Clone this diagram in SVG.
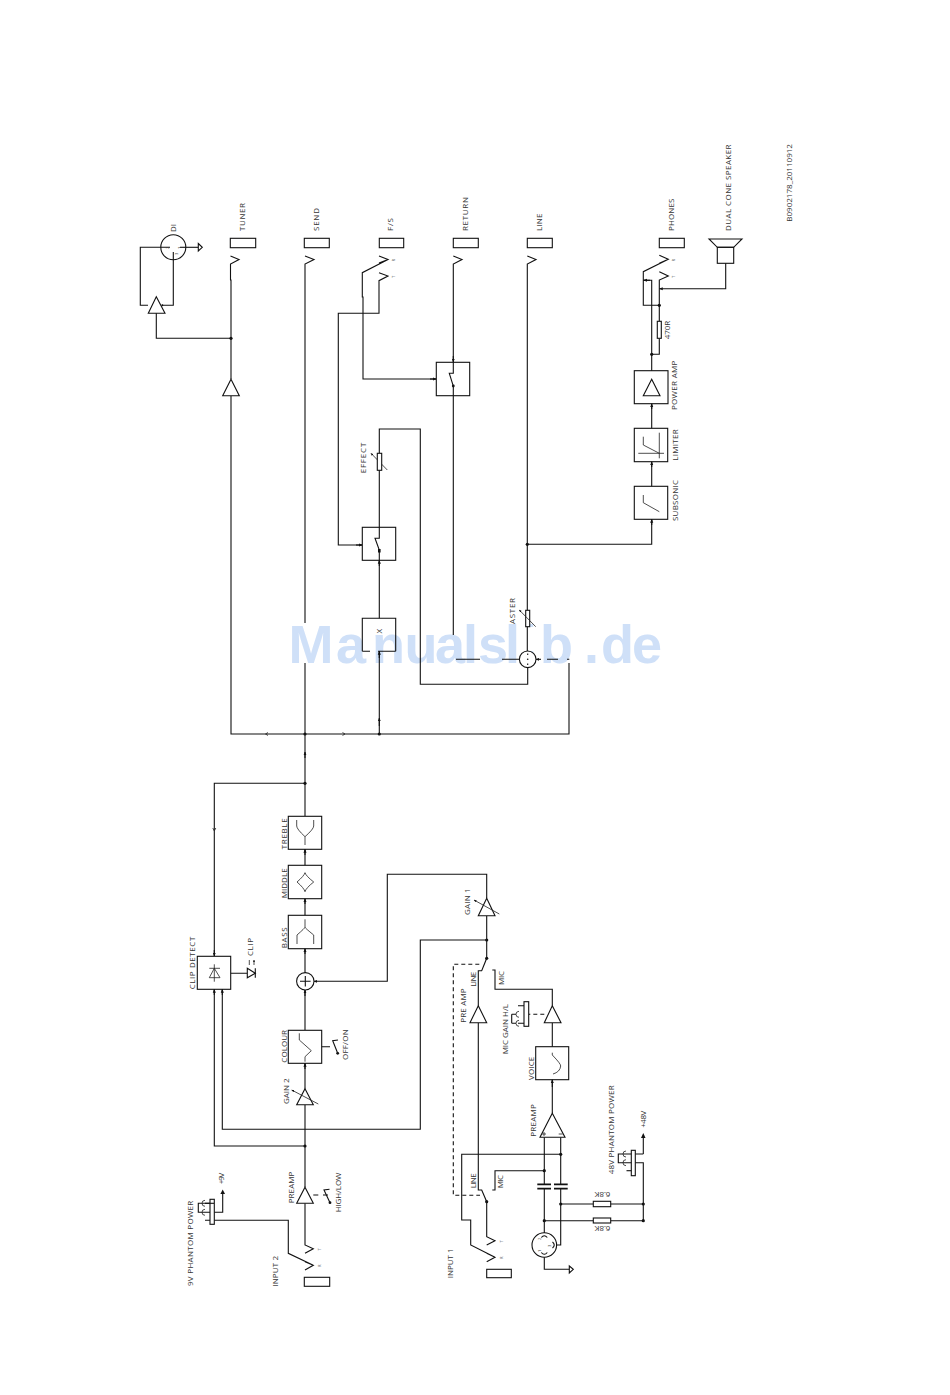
<svg xmlns="http://www.w3.org/2000/svg" width="950" height="1395" viewBox="0 0 950 1395">
<style>
.l{fill:none;stroke:#111;stroke-width:1.1;stroke-linejoin:miter}
.t{fill:none;stroke:#222;stroke-width:.8}
.b{fill:#fff;stroke:#111;stroke-width:1.1}
.c{fill:none;stroke:#111;stroke-width:1.7}
.d{fill:none;stroke:#111;stroke-width:1.1;stroke-dasharray:4 3}
text{font-family:"Open Sans","Noto Sans","Liberation Sans",sans-serif;font-size:8px;fill:#333}
.s{font-size:4px}
text.w{font-family:"Liberation Sans",Arial,sans-serif;font-size:54px;font-weight:700;fill:#cfe0f8}
</style>
<defs>
<marker id="a" viewBox="0 0 6 6" refX="5.5" refY="3" markerWidth="3.4" markerHeight="3.4" orient="auto"><path d="M0 .5L6 3 0 5.5z" fill="#111"/></marker>
<circle id="dot" r="1.6" fill="#111"/>
</defs>
<rect width="950" height="1395" fill="#fff"/>
<g id="master-label"><text transform="translate(515,632) rotate(-90)" textLength="34">MASTER</text></g>
<text class="w" y="663" x="288.5 336 372 404.5 435 463 478 505 522 540 584 601 632">Manualslib.de</text>
<g id="connectors">
<path class="l" d="M230.5 256L239 259.5 230.5 264V280H231V379"/>
<path class="l" d="M231 396V734H569V663"/>
<path class="l" d="M231 338.3H156.3V313"/>
<path class="l" d="M148 305.3H140.3V247.3H170"/>
<path class="l" d="M162 305.3H173.3V252"/>
<path class="l" d="M180 247.3H198"/>
<path class="l" d="M305 256L314 259.5 305 264V623"/>
<path class="l" d="M305 663V816"/>
<path class="l" d="M305 758V752" marker-end="url(#a)"/>
<path class="l" d="M379 256L388 259.5 379 263M388 259.5L362.3 272.7V297H363V379H436"/>
<path class="l" d="M379 272.7L388 276 379 280.7V313.3H338.3V545H362"/>
<path class="l" d="M430 379H436" marker-end="url(#a)"/>
<path class="l" d="M356 545H362" marker-end="url(#a)"/>
<path class="l" d="M453.3 256L462 259.5 453.3 264V373.3H449.3L453.3 386V635"/>
<path class="l" d="M453.3 356V362" marker-end="url(#a)"/>
<path class="l" d="M527.3 256L536 259.5 527.3 264V610"/>
<path class="l" d="M527.3 544.3H651.7V519.3"/>
<path class="l" d="M651.7 525V519.3" marker-end="url(#a)"/>
<path class="l" d="M651.7 486.3V461.7"/>
<path class="l" d="M651.7 467V461.7" marker-end="url(#a)"/>
<path class="l" d="M651.7 428.3V403.7"/>
<path class="l" d="M651.7 409V403.7" marker-end="url(#a)"/>
<path class="l" d="M527.7 667.7V684.3H420.3V429H379.3V453"/>
<path class="l" d="M379.3 470V538.3H375L379.3 550V618.3M379.3 651.3V734"/>
<path class="l" d="M379.3 566V560.3" marker-end="url(#a)"/>
<path class="l" d="M379.3 726V718" marker-end="url(#a)"/>
<path class="l" d="M379.3 658V651.3" marker-end="url(#a)"/>
<rect x="378" y="549" width="2.6" height="3.5" fill="#111"/>
<path class="l" d="M456 659.3H480M502 659.3H519.2M547 659.3H558M567 659.3H569.3"/>
<path class="l" d="M541 659.3H536" marker-end="url(#a)"/>
<path class="t" d="M387.3 470L371 453.3" marker-end="url(#a)"/>
<path class="t" d="M268 732.5L265.5 734 268 735.5M342.5 732.5L345 734 342.5 735.5"/>
<path class="l" d="M659.3 255.3L668.3 259.3 659.3 263.3M668.3 259.3L643.3 271.7V305.3H659.3"/>
<path class="l" d="M659.3 271.7L668.3 276 659.3 280V321.3M659.3 338.3V354.3H651.7"/>
<path class="l" d="M643.3 280.3H651.7V370.7"/>
<path class="l" d="M725.7 263.3V288.7H659.3" marker-end="url(#a)"/>
<path class="l" d="M650 280.3H643.5" marker-end="url(#a)"/>
<path class="l" d="M214.3 956V783.3H305"/>
<path class="l" d="M214.3 950V956" marker-end="url(#a)"/>
<path class="t" d="M212.8 828L214.3 831 215.8 828"/>
<path class="l" d="M305 855V849.3" marker-end="url(#a)"/>
<path class="l" d="M305 904V898.7" marker-end="url(#a)"/>
<path class="l" d="M305 954V948.7" marker-end="url(#a)"/>
<path class="l" d="M305 849.3V865.3M305 898.7V915.3M305 948.7V973M305 990V1030"/>
<path class="l" d="M305 996V990" marker-end="url(#a)"/>
<path class="l" d="M305 1063.3V1088.7M305 1104.7V1187.3M305 1203.3V1245L313.3 1248.7 305 1253.3"/>
<path class="l" d="M305 1069V1063.3" marker-end="url(#a)"/>
<path class="l" d="M214.3 989.3V1146H305"/>
<path class="l" d="M222.3 989.3V1129.3H420.3V940H486.7"/>
<path class="l" d="M214.3 995V989.3" marker-end="url(#a)"/>
<path class="l" d="M222.3 995V989.3" marker-end="url(#a)"/>
<path class="l" d="M486.7 898.3V874.3H387.3V981.3H314" marker-end="url(#a)"/>
<path class="l" d="M486.7 915.7V958.3L481.7 970.7H478.3V1005.7"/>
<path class="l" d="M478.3 1022.7V1190H481.7L486.7 1201.7V1236.7L495 1240.7 486.7 1245"/>
<path class="l" d="M486.7 1253.3L495 1257.3 486.7 1261.7M495 1257.3L470.7 1245V1220H461.7V1154.3H560.7"/>
<path class="d" d="M479.3 964.3H453.3V1195.3H480"/>
<path class="l" d="M492.3 970H495V989.3H552.3V1005.7"/>
<path class="l" d="M552.3 1022.7V1046.7M552.3 1079.7V1113.3"/>
<path class="l" d="M552.3 1087V1079.7" marker-end="url(#a)"/>
<path class="d" d="M544.3 1014.3H528.7"/>
<path class="l" d="M492.3 1190H495V1170.7H544.3"/>
<path class="l" d="M544.3 1137.3V1184.3M544.3 1188.7V1233M560.7 1137.3V1184.3M560.7 1188.7V1245H556"/>
<path class="c" d="M537.3 1184.3H551M537.3 1188.7H551M554 1184.3H567.7M554 1188.7H567.7"/>
<path class="l" d="M544.3 1257.3V1269.3H569.3"/>
<path class="l" d="M560.7 1204H593.3M610.7 1204H643.3M544.3 1220.7H593.3M610.7 1220.7H643.3V1162.7H618.3V1154H643.3"/>
<path class="l" d="M643.3 1154V1136"/>
<path class="l" d="M305 1261.7L313.3 1265.3 305 1270M313.3 1265.3L288.3 1253.3V1220.3H205"/>
<path class="l" d="M222.7 1193.3V1212.3H198.3V1203.3H210"/>
<path class="l" d="M230.7 973.3H247.3M321.7 1046.7H330M313.3 1195H318.3M323 1195H328"/>
</g>
<g id="tuner"><rect class="b" x="230.3" y="238.3" width="25.4" height="9.4"/><text transform="translate(245,231) rotate(-90)" textLength="28">TUNER</text><path class="b" d="M231 379.3L239.3 395.7H222.7z"/></g>
<g id="di"><circle class="l" cx="173.3" cy="247.3" r="12.5"/><path class="l" d="M198.3 243.5L202.3 247.3 198.3 251z"/><path class="b" d="M156.3 296.7L165 313.3H148.3z"/><circle cx="162.3" cy="305.3" r="1" fill="#111"/><text class="s" transform="translate(169,249) rotate(-90)">2</text><text class="s" transform="translate(181,249) rotate(-90)">1</text><text class="s" transform="translate(178,255) rotate(-90)">3</text><text transform="translate(176,232) rotate(-90)" textLength="8">DI</text></g>
<g id="send"><rect class="b" x="304.3" y="238.3" width="25" height="9.4"/><text transform="translate(319.3,231) rotate(-90)" textLength="23">SEND</text></g>
<g id="fs"><rect class="b" x="379.3" y="238.3" width="24.4" height="9.4"/><text transform="translate(393.3,231) rotate(-90)" textLength="13">F/S</text><text class="s" transform="translate(395,261.5) rotate(-90)">R</text><text class="s" transform="translate(395,278) rotate(-90)">T</text></g>
<g id="return"><rect class="b" x="453.3" y="238.3" width="25" height="9.4"/><text transform="translate(467.7,231) rotate(-90)" textLength="34">RETURN</text><rect class="l" x="436.3" y="362.3" width="33.4" height="33.4"/><circle cx="453.3" cy="386" r="1.4" fill="#111"/></g>
<g id="line"><rect class="b" x="527.3" y="238.3" width="25" height="9.4"/><text transform="translate(541.7,231) rotate(-90)" textLength="17.5">LINE</text></g>
<g id="phones"><rect class="b" x="659.3" y="238.3" width="25" height="9.4"/><text transform="translate(674,231) rotate(-90)" textLength="32.5">PHONES</text><text class="s" transform="translate(675,261.5) rotate(-90)">R</text><text class="s" transform="translate(675,278) rotate(-90)">T</text><rect class="b" x="657.3" y="321.3" width="4" height="17"/><text transform="translate(670,339.3) rotate(-90)" textLength="18.6">470R</text></g>
<g id="speaker"><path class="l" d="M709 239H742L733.7 247.3H717.3z"/><rect class="l" x="717.3" y="247.3" width="16.4" height="16"/><text transform="translate(731,231) rotate(-90)" textLength="86.5">DUAL CONE SPEAKER</text></g>
<g id="code"><text transform="translate(791.7,221.7) rotate(-90)" textLength="77.6">B0902178_20110912</text></g>
<g id="power-amp"><rect class="l" x="634.3" y="370.7" width="33.7" height="33"/><path class="l" d="M651.7 379.3L660 395.7H643.3z"/><text transform="translate(677,410) rotate(-90)" textLength="49.3">POWER AMP</text></g>
<g id="limiter"><rect class="l" x="634.3" y="428.3" width="33.4" height="33.4"/><path class="t" d="M659.3 432.7V458.3M638.3 453.3H664M643.3 436.7V445L659.3 453.3"/><text transform="translate(678.3,460.7) rotate(-90)" textLength="31.4">LIMITER</text></g>
<g id="subsonic"><rect class="l" x="634.3" y="486.3" width="33.4" height="33"/><path class="t" d="M643.3 495V502.7L659.3 511.7"/><text transform="translate(678.3,521) rotate(-90)" textLength="41">SUBSONIC</text></g>
<g id="effect"><rect class="b" x="377.3" y="453.3" width="4.4" height="17"/><text transform="translate(366,473.3) rotate(-90)" textLength="30.6">EFFECT</text><rect class="l" x="362.3" y="527.3" width="33.4" height="33"/></g>
<g id="multiplier"><path class="l" d="M362.3 651.3V618.3H395.7V651.3M362.3 651.3H370M378 651.3H395.7"/><text transform="translate(382,633.5) rotate(-90)">X</text></g>
<g id="master"><rect x="522" y="627" width="12" height="24" fill="#fff"/><path class="l" d="M527.3 627V651"/><rect class="b" x="525.7" y="610.3" width="4" height="16.4"/><path class="t" d="M535.7 626.7L519.3 610" marker-end="url(#a)"/><circle class="b" cx="527.7" cy="659.3" r="8.3"/><circle cx="527.7" cy="659.3" r=".8" fill="#111"/><path class="l" d="M527.7 653.5V655M527.7 663.5V665"/></g>
<g id="treble"><rect class="l" x="288.3" y="816.3" width="33.4" height="33"/><path class="t" d="M296.7 820V826Q296.7 829 305 836.7M313.7 820V826Q313.7 829 305 836.7V845"/><text transform="translate(287.3,849.3) rotate(-90)" textLength="31">TREBLE</text></g>
<g id="middle"><rect class="l" x="288.3" y="865.3" width="33.4" height="33.4"/><path class="t" d="M305 872.7Q306 876 313.7 882 306 888 305 891.7 304 888 297 882 304 876 305 872.7z"/><text transform="translate(287.3,898.3) rotate(-90)" textLength="30">MIDDLE</text></g>
<g id="bass"><rect class="l" x="288.3" y="915.3" width="33.4" height="33.4"/><path class="t" d="M305 919.3V927.3Q305 928 297 935V944M305 927.3Q305 928 313.7 935V944"/><text transform="translate(287.3,948.3) rotate(-90)" textLength="21">BASS</text></g>
<g id="sum"><circle class="b" cx="305.3" cy="981.3" r="8.7"/><path class="l" d="M300 981.3H310.6M305.3 976V986.6"/></g>
<g id="clip-detect"><rect class="l" x="197.3" y="956.3" width="33.4" height="33"/><path class="t" d="M214.3 968.3L220 977.7H209.3zM209.3 968.3H220M214.3 964.3V981.7"/><text transform="translate(195,989.3) rotate(-90)" textLength="52.6">CLIP DETECT</text><path class="b" d="M247.3 968.3L255.3 973.3 247.3 977.7z"/><path class="l" d="M255.3 968.3V977.7"/><path class="t" d="M249.3 965V960M254 965V960" marker-end="url(#a)"/><text transform="translate(252.7,956) rotate(-90)" textLength="18">CLIP</text></g>
<g id="colour"><rect class="l" x="288.3" y="1030.3" width="33.4" height="33"/><path class="t" d="M299.3 1033.3V1040L311.3 1050.7 305 1056.7V1061.7"/><text transform="translate(287.3,1062.7) rotate(-90)" textLength="32.7">COLOUR</text><path class="l" d="M338 1040L332.7 1040.7 337.7 1053.3"/><circle cx="337.7" cy="1053.3" r="1.4" fill="#111"/><text transform="translate(348.3,1060) rotate(-90)" textLength="30.7">OFF/ON</text></g>
<g id="gain2"><path class="b" d="M305 1088.7L313.3 1104.7H296.7z"/><path class="t" d="M318.3 1104L291.7 1090" marker-end="url(#a)"/><text transform="translate(289,1104) rotate(-90)" textLength="25.7">GAIN 2</text></g>
<g id="preamp2"><path class="b" d="M305 1187.3L313.3 1203.3H296.7z"/><text transform="translate(294,1203.3) rotate(-90)" textLength="31.7">PREAMP</text><path class="l" d="M329.5 1189.3L324 1190 330 1202.7"/><circle cx="330" cy="1202.7" r="1.4" fill="#111"/><text transform="translate(340.7,1212.3) rotate(-90)" textLength="39.7">HIGH/LOW</text></g>
<g id="input2"><rect class="b" x="304.3" y="1277.3" width="25.4" height="9"/><text transform="translate(278.3,1286.7) rotate(-90)" textLength="30.7">INPUT 2</text><text class="s" transform="translate(321,1250.5) rotate(-90)">T</text><text class="s" transform="translate(321,1267) rotate(-90)">R</text></g>
<g id="phantom9"><rect class="b" x="210" y="1199.3" width="4.3" height="25"/><path class="t" d="M205 1200.3A3 3 0 0 0 205 1206.3M205 1209.3A3 3 0 0 0 205 1215.3"/><path class="l" d="M205 1203.3H214"/><path d="M222.7 1189.5L225 1194H220.4z" fill="#111"/><text transform="translate(192.7,1286) rotate(-90)" textLength="85.3">9V PHANTOM POWER</text><text transform="translate(224.3,1184.3) rotate(-90)" textLength="11.7">+9V</text></g>
<g id="gain1"><path class="b" d="M486.7 898.3L495 915.7H478.3z"/><path class="t" d="M499.3 914L474 900" marker-end="url(#a)"/><text transform="translate(470,915) rotate(-90)" textLength="26.7">GAIN 1</text><text transform="translate(475.7,986.7) rotate(-90)" textLength="15">LINE</text><text transform="translate(504,985) rotate(-90)" textLength="14">MIC</text></g>
<g id="preamp-line"><path class="b" d="M478.3 1005.7L486.7 1022.7H470z"/><text transform="translate(466,1022.7) rotate(-90)" textLength="34.3">PRE AMP</text></g>
<g id="mic-gain"><path class="b" d="M552.3 1005.7L561 1022.7H544.3z"/><rect class="b" x="524" y="1001.7" width="4.7" height="24.6"/><path class="l" d="M518 1005.7H524M518 1023.3H524M511.7 1014.3V1023.3M511.7 1014.3H516M511.7 1023.3H516"/><path class="t" d="M519 1011.3A3 3 0 0 0 519 1017.3M519 1020.3A3 3 0 0 0 519 1026.3"/><text transform="translate(508.3,1054.3) rotate(-90)" textLength="50.3">MIC GAIN H/L</text></g>
<g id="voice"><rect class="l" x="535.7" y="1046.7" width="33" height="33"/><path class="t" d="M552.3 1052.7V1055Q561 1064 560.7 1066 560 1072 553 1074"/><text transform="translate(534.3,1080) rotate(-90)" textLength="23.3">VOICE</text></g>
<g id="preamp-mic"><path class="b" d="M552.3 1113.3L565 1137.3H540z"/><path class="t" d="M542 1134H546M544 1132V1136M558.7 1134H562.7"/><text transform="translate(535.7,1136.7) rotate(-90)" textLength="32.4">PREAMP</text><text transform="translate(476,1188.3) rotate(-90)" textLength="15">LINE</text><text transform="translate(502.7,1188.3) rotate(-90)" textLength="13.3">MIC</text></g>
<g id="xlr"><circle class="l" cx="544.3" cy="1245" r="12.3"/><path class="l" d="M541.3 1237.5Q544.3 1234 547.3 1237.5M541.3 1252.5Q544.3 1256 547.3 1252.5M552.5 1242Q556 1245 552.5 1248"/><text class="s" transform="translate(541,1240) rotate(-90)">2</text><text class="s" transform="translate(541,1252) rotate(-90)">1</text><text class="s" transform="translate(551,1247) rotate(-90)">3</text><path class="l" d="M569.3 1266L573.3 1269.3 569.3 1273z"/></g>
<g id="input1"><rect class="b" x="486.7" y="1269.3" width="24.6" height="8.4"/><text transform="translate(452.7,1278.3) rotate(-90)" textLength="30">INPUT 1</text><text class="s" transform="translate(502.5,1242.5) rotate(-90)">T</text><text class="s" transform="translate(502.5,1259) rotate(-90)">R</text></g>
<g id="resistors"><rect class="b" x="593.3" y="1201.3" width="17.4" height="5.4"/><rect class="b" x="593.3" y="1218" width="17.4" height="5"/><text transform="translate(610.3,1192) rotate(180)" textLength="15.7">6.8K</text><text transform="translate(610.3,1226) rotate(180)" textLength="15.7">6.8K</text></g>
<g id="phantom48"><rect class="b" x="631.3" y="1150.3" width="4" height="25.4"/><path class="l" d="M626.5 1170.7H631.3"/><path class="t" d="M626 1151A3 3 0 0 0 626 1157M626 1159.7A3 3 0 0 0 626 1165.7"/><path d="M643.3 1133L645.5 1138H641z" fill="#111"/><text transform="translate(614,1174.3) rotate(-90)" textLength="89">48V PHANTOM POWER</text><text transform="translate(646,1127.7) rotate(-90)" textLength="17">+48V</text></g>
<g id="junctions">
<use href="#dot" x="231" y="338.3"/><use href="#dot" x="305" y="734"/><use href="#dot" x="379.3" y="734"/><use href="#dot" x="305" y="783.3"/><use href="#dot" x="305" y="1146"/><use href="#dot" x="527.3" y="544.3"/><use href="#dot" x="659.3" y="305.3"/><use href="#dot" x="651.7" y="354.3"/><use href="#dot" x="486.7" y="940"/><use href="#dot" x="486.7" y="958.3"/><use href="#dot" x="486.7" y="1201.7"/><use href="#dot" x="560.7" y="1154.3"/><use href="#dot" x="544.3" y="1170.7"/><use href="#dot" x="560.7" y="1204"/><use href="#dot" x="544.3" y="1220.7"/><use href="#dot" x="643.3" y="1204"/><use href="#dot" x="643.3" y="1220.7"/>
</g>
</svg>
